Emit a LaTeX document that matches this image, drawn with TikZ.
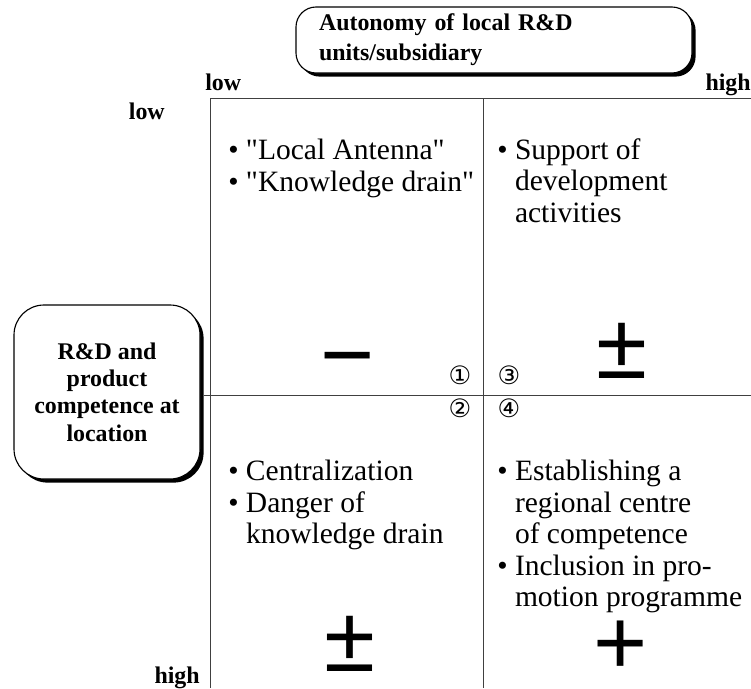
\documentclass[tikz,border=0pt]{standalone}
\usepackage{fontspec}
\setmainfont{Liberation Serif}[Ligatures=TeXOff]
\newfontfamily\signfont{Liberation Sans}
\newfontfamily\numfont{DejaVu Sans}
\usepackage{tikz}
\usetikzlibrary{shadows}
\tikzstyle{headbox} = [
  rectangle, draw=black, fill=white, line width=0.8pt,
  drop shadow={shadow xshift=0.09cm, shadow yshift=-0.09cm, fill=black, opacity=1},
  font=\fontsize{17}{21.3}\selectfont\bfseries
]
\tikzstyle{levellabel} = [inner sep=0pt, font=\fontsize{17}{20}\selectfont\bfseries]
\tikzstyle{celltext} = [inner sep=0pt, anchor=north west, align=left, font=\fontsize{21}{22.4}\selectfont]
\tikzstyle{signmark} = [inner sep=0pt, text height=42pt, text depth=-7pt, font=\signfont\fontsize{66}{66}\selectfont]
\tikzstyle{cellnum} = [inner sep=0pt, font=\numfont\fontsize{18}{18}\selectfont]
\tikzstyle{gridline} = [draw=black!75, line width=0.6pt]
\newcommand{\cellitem}{\textbullet~}
\newcommand{\cellindent}{\hphantom{\textbullet~}}

\begin{document}
\begin{tikzpicture}

  \useasboundingbox (0,0) rectangle (18.775,-17.2);

  \draw[gridline] (5.25,-2.45) -- (18.775,-2.45);
  \draw[gridline] (5.25,-2.45) -- (5.25,-17.2);
  \draw[gridline] (12.09,-2.45) -- (12.09,-17.2);
  \draw[gridline] (5.1,-9.875) -- (18.775,-9.875);

  \node[headbox, rounded corners=0.5cm, minimum width=9.9cm, minimum height=1.65cm,
        text width=8.75cm, inner xsep=0.575cm, align=left] (autonomy) at (12.35,-1.0)
        {Autonomy of local R\&D\\units/subsidiary};
  \node[headbox, rounded corners=0.75cm, minimum width=4.65cm, minimum height=4.35cm,
        align=center, font=\fontsize{17}{19.5}\selectfont\bfseries] (competence) at (2.675,-9.8)
        {R\&D and\\product\\competence at\\location};

  \node[levellabel, anchor=base west] (lowtop) at (5.125,-2.27) {low};
  \node[levellabel, anchor=base east] (hightop) at (18.775,-2.27) {high};
  \node[levellabel, anchor=base east] (lowleft) at (4.125,-2.975) {low};
  \node[levellabel, anchor=base east] (highleft) at (5.0,-17.075) {high};

  \node[celltext] (antenna) at (5.7,-3.475) {\cellitem "Local Antenna"\\\cellitem "Knowledge drain"};
  \node[celltext] (support) at (12.425,-3.45) {\cellitem Support of\\\cellindent development\\\cellindent activities};
  \node[celltext] (central) at (5.7,-11.5) {\cellitem Centralization\\\cellitem Danger of\\\cellindent knowledge drain};
  \node[celltext] (regional) at (12.425,-11.5) {\cellitem Establishing a\\\cellindent regional centre\\\cellindent of competence\\\cellitem Inclusion in pro-\\\cellindent motion programme};

  \node[signmark] (signone) at (8.7,-8.925) {−};
  \node[signmark] (signthree) at (15.55,-8.725) {±};
  \node[signmark] (signtwo) at (8.75,-16.05) {±};
  \node[signmark] (signfour) at (15.525,-16.125) {+};

  \foreach \num/\x/\y/\name in {①/11.5/-9.375/one, ③/12.725/-9.375/three,
                                ②/11.5/-10.2/two, ④/12.725/-10.2/four}
    \node[cellnum] (num\name) at (\x,\y) {\num};

\end{tikzpicture}
\end{document}
